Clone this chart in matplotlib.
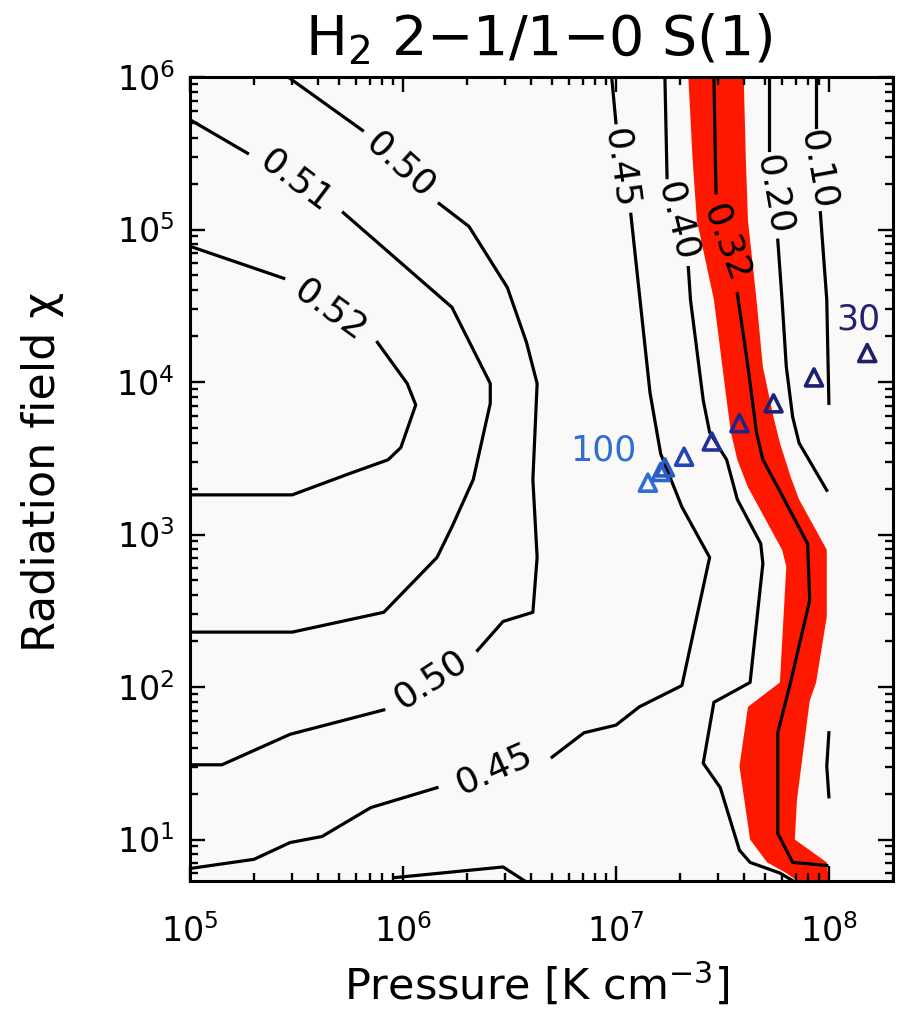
import numpy as np
import matplotlib
matplotlib.use("Agg")
import matplotlib.pyplot as plt
from matplotlib.ticker import LogLocator, NullFormatter

# Contour pieces in log10 units: (log P, log chi). Each contour is broken where its label sits.
c050 = [
    [(5.46, 6.00), (5.81, 5.65)],
    [(6.17, 5.17), (6.31, 5.02), (6.49, 4.62), (6.58, 4.26), (6.63, 3.99), (6.61, 3.36),
     (6.63, 2.85), (6.61, 2.49), (6.47, 2.43), (6.35, 2.24)],
    [(5.91, 1.85), (5.47, 1.69), (5.15, 1.49), (5.00, 1.49)],
]
c051 = [
    [(5.00, 5.72), (5.27, 5.50)],
    [(5.72, 5.11), (6.23, 4.49), (6.41, 3.99), (6.41, 3.86), (6.33, 3.36), (6.23, 3.05),
     (6.16, 2.85), (5.91, 2.49), (5.48, 2.36), (5.00, 2.36)],
]
c052 = [
    [(5.00, 4.89), (5.44, 4.68)],
    [(5.88, 4.26), (6.02, 3.99), (6.06, 3.85), (5.99, 3.57), (5.93, 3.49), (5.75, 3.40),
     (5.48, 3.26), (5.00, 3.26)],
]
c045 = [
    [(5.00, 0.81), (5.30, 0.87), (5.47, 0.98), (5.62, 1.02), (5.85, 1.21), (6.16, 1.34)],
    [(6.70, 1.54), (6.85, 1.70), (7.00, 1.75), (7.11, 1.87), (7.31, 2.01), (7.44, 2.85),
     (7.31, 3.18), (7.21, 3.53), (7.16, 3.93), (7.11, 4.58), (7.07, 5.10)],
    [(7.00, 5.70), (6.98, 6.00)],
]
c040 = [
    [(7.23, 6.00), (7.24, 5.34)],
    [(7.34, 4.75), (7.35, 4.54), (7.38, 4.21), (7.41, 3.88), (7.44, 3.67), (7.52, 3.49),
     (7.57, 3.23), (7.68, 2.94), (7.69, 2.81), (7.63, 2.03), (7.46, 1.90), (7.41, 1.50),
     (7.49, 1.34), (7.58, 0.93), (7.63, 0.85), (7.77, 0.78), (7.83, 0.73)],
]
c032 = [
    [(7.46, 6.00), (7.47, 5.24)],
    [(7.57, 4.58), (7.62, 4.10), (7.66, 3.67), (7.69, 3.49), (7.76, 3.31), (7.90, 2.94),
     (7.91, 2.57), (7.82, 2.03), (7.76, 1.70), (7.76, 1.04), (7.83, 0.85), (7.99, 0.83)],
]
c020 = [
    [(7.72, 6.00), (7.72, 5.52)],
    [(7.76, 4.93), (7.78, 4.54), (7.80, 4.10), (7.83, 3.77), (7.86, 3.60), (7.99, 3.29)],
]
c010 = [
    [(7.94, 6.00), (7.94, 5.67)],
    [(7.96, 5.11), (7.99, 4.54), (8.00, 3.86)],
]
c_extra = [
    [(5.96, 0.75), (6.47, 0.82), (6.57, 0.73)],
    [(8.00, 1.70), (7.99, 1.48), (8.00, 1.28)],
]

# contour labels: text, log P, log chi, rotation
contour_labels = [
    ("0.50", 5.99, 5.42, -42), ("0.50", 6.13, 2.05, 33),
    ("0.51", 5.50, 5.32, -37), ("0.52", 5.66, 4.47, -36),
    ("0.45", 6.43, 1.46, 24), ("0.45", 7.02, 5.40, -82),
    ("0.40", 7.29, 5.05, -76), ("0.32", 7.52, 4.91, -70),
    ("0.20", 7.74, 5.23, -80), ("0.10", 7.95, 5.39, -80),
]

# uncertainty band around the observed ratio
band_left = [(7.34, 6.00), (7.36, 5.46), (7.38, 5.06), (7.46, 4.54), (7.49, 4.21), (7.52, 3.88),
             (7.54, 3.67), (7.57, 3.49), (7.62, 3.31), (7.78, 2.90), (7.80, 2.79), (7.77, 2.03),
             (7.62, 1.87), (7.58, 1.48), (7.63, 1.00), (7.71, 0.85), (7.80, 0.78), (7.85, 0.73)]
band_right = [(7.60, 6.00), (7.61, 5.46), (7.62, 5.06), (7.66, 4.54), (7.69, 4.10), (7.74, 3.77),
              (7.77, 3.60), (7.82, 3.38), (7.86, 3.23), (7.99, 2.90), (7.99, 2.46), (7.94, 2.03),
              (7.91, 1.91), (7.85, 1.26), (7.84, 1.00), (7.99, 0.85), (8.00, 0.73)]

# model sequence (100 -> 30)
seq_logP = [7.15, 7.21, 7.23, 7.32, 7.45, 7.58, 7.74, 7.93, 8.18]
seq_logchi = [3.34, 3.41, 3.44, 3.51, 3.61, 3.73, 3.86, 4.03, 4.19]
seq_colors = ["#2f6fd6", "#2b62cc", "#2a5ac4", "#2545b0", "#22309a",
              "#1f2683", "#1e2277", "#1d1f70", "#1d1e6c"]
seq_labels = [("100", 6.94, 3.55, "#2f6fd2"), ("30", 8.14, 4.41, "#232370")]

RED = "#ff1800"
BG = "#fbf9f8"

fig = plt.figure(figsize=(9.03, 10.13), dpi=100)
ax = fig.add_axes([190 / 903, 1 - 881 / 1013, 703 / 903, 804 / 1013])
ax.set_facecolor(BG)
ax.set_xscale("log")
ax.set_yscale("log")
ax.set_xlim(1e5, 2.0e8)
ax.set_ylim(10 ** 0.728, 1e6)

bl = np.array(band_left)
br = np.array(band_right)[::-1]
ax.fill(10 ** np.concatenate([bl[:, 0], br[:, 0]]), 10 ** np.concatenate([bl[:, 1], br[:, 1]]),
        color=RED, lw=0, zorder=1)

for contour in (c050, c051, c052, c045, c040, c032, c020, c010, c_extra):
    for piece in contour:
        p = np.array(piece)
        ax.plot(10 ** p[:, 0], 10 ** p[:, 1], color="black", lw=2.3, zorder=2)

for txt, lx, ly, rot in contour_labels:
    ax.text(10 ** lx, 10 ** ly, txt, fontsize=26, rotation=rot, rotation_mode="anchor",
            ha="center", va="center", zorder=3)

ax.scatter(10 ** np.array(seq_logP), 10 ** np.array(seq_logchi), marker="^", s=150,
           facecolors="none", edgecolors=seq_colors, linewidths=2.6, zorder=4)
for txt, lx, ly, col in seq_labels:
    ax.text(10 ** lx, 10 ** ly, txt, fontsize=25, color=col, ha="center", va="center", zorder=4)

for side in ax.spines.values():
    side.set_linewidth(2.2)
ax.xaxis.set_major_locator(LogLocator(base=10, numticks=10))
ax.yaxis.set_major_locator(LogLocator(base=10, numticks=10))
ax.xaxis.set_minor_locator(LogLocator(base=10, subs=np.arange(2, 10), numticks=20))
ax.yaxis.set_minor_locator(LogLocator(base=10, subs=np.arange(2, 10), numticks=20))
ax.xaxis.set_minor_formatter(NullFormatter())
ax.yaxis.set_minor_formatter(NullFormatter())
ax.tick_params(which="both", direction="in", top=True, right=True, width=1.7)
ax.tick_params(which="major", length=11, labelsize=24)
ax.tick_params(which="minor", length=5.5)
ax.tick_params(axis="x", which="major", pad=24)
ax.tick_params(axis="y", which="major", pad=11)

fig.text(539 / 903, 1 - 55 / 1013, "H$_2$ 2\u22121/1\u22120 S(1)", ha="center", va="baseline",
         fontsize=40)
fig.text(537 / 903, 1 - 1000 / 1013, "Pressure [K cm$^{-3}$]", ha="center", va="baseline",
         fontsize=31)
fig.text(43 / 903, 1 - 472 / 1013, "Radiation field \u03c7", rotation=90, ha="center",
         va="center", fontsize=32)

fig.savefig("out.png", dpi=100)
